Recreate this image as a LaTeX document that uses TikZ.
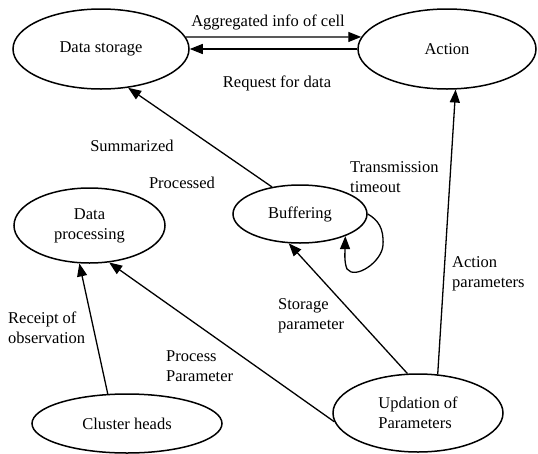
\documentclass[tikz,border=0pt]{standalone}
\usepackage{fontspec}
\setmainfont{Liberation Serif}
\usetikzlibrary{shapes.geometric,arrows.meta}
\begin{document}
\begin{tikzpicture}[x=1pt,y=-1pt,
  every node/.style={font=\fontsize{16.5}{20}\selectfont, inner sep=0pt},
  state/.style={ellipse, draw, line width=1.5pt, inner sep=0pt},
  lbl/.style={align=left},
  arr/.style={line width=1.3pt, -{Triangle[length=13pt,width=10pt]}}]
\useasboundingbox (0,0) rectangle (538,453);
% states
\node[state, minimum width=176pt, minimum height=80pt] (ds) at (101,49) {Data storage};
\node[state, minimum width=178pt, minimum height=80pt] (act) at (447,49) {Action};
\node[state, minimum width=134pt, minimum height=58pt, align=center] (buf) at (300,214) {Buffering};
\node[state, minimum width=151pt, minimum height=75pt, align=center] (dp) at (89.5,225.5) {Data\\processing};
\node[state, minimum width=190pt, minimum height=59pt] (ch) at (127,423.5) {Cluster heads};
\node[state, minimum width=170pt, minimum height=78pt, align=left] (up) at (418,413) {Updation of\\Parameters};
% connectors
\draw[arr] (ds.8) -- (act.172);
\draw[arr] (act.west) -- (ds.east);
\draw[arr] (buf.136) -- (ds.-55);
\draw[arr] (buf.east) .. controls (378,220) and (384,228) .. (383,245)
  .. controls (382,262) and (355,280) .. (347,269)
  .. controls (344,262) and (345,252) .. (buf.-26);
\draw[arr] (ch.123) -- (dp.-105.5);
\draw[arr] (up.186.7) -- (dp.-62.6);
\draw[arr] (up.105.8) -- (buf.-111);
\draw[arr] (up.63) -- (act.-78.7);
% labels
\node (l1) at (268,22) {Aggregated info of cell};
\node (l2) at (277,83) {Request for data};
\node (l3) at (132,146) {Summarized};
\node (l4) at (182,183) {Processed};
\node[lbl, anchor=west] (l5) at (350,177) {Transmission\\timeout};
\node[lbl, anchor=west] (l6) at (452,274) {Action\\parameters};
\node[lbl, anchor=west] (l7) at (278,316) {Storage\\parameter};
\node[lbl, anchor=west] (l8) at (8,328) {Receipt of\\observation};
\node[lbl, anchor=west] (l9) at (166,366) {Process\\Parameter};
\end{tikzpicture}
\end{document}
